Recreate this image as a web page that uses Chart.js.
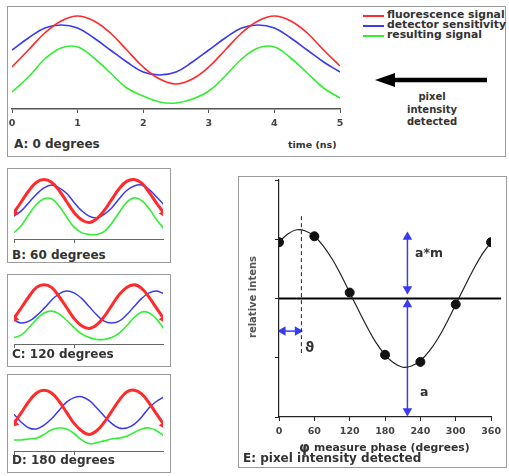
<!DOCTYPE html>
<html>
<head>
<meta charset="utf-8">
<script src="https://cdn.jsdelivr.net/npm/chart.js@4.4.1/dist/chart.umd.min.js"></script>
<style>
body { margin: 0; background: #fff; }
#page { position: relative; width: 509px; height: 476px; overflow: hidden;
        font-family: "DejaVu Sans", Verdana, sans-serif; font-weight: bold; color: #333; }
.box { position: absolute; border: 1px solid #9a9a9a; box-sizing: border-box; }
canvas { position: absolute; }
.t { position: absolute; white-space: nowrap; line-height: 1; }
.leg { position: absolute; height: 1.5px; width: 21px; }
</style>
</head>
<body>
<div id="page">
  <div class="box" style="left:7px;top:6px;width:499px;height:151px"></div>
  <div class="box" style="left:7px;top:168px;width:164px;height:95px"></div>
  <div class="box" style="left:7px;top:274px;width:164px;height:93px"></div>
  <div class="box" style="left:7px;top:374px;width:164px;height:99px"></div>
  <div class="box" style="left:238px;top:176px;width:269px;height:292px"></div>

  <canvas id="chart-a" width="350" height="130" style="left:0;top:0"></canvas>
  <canvas id="chart-b" width="163" height="78" style="left:7px;top:168px"></canvas>
  <canvas id="chart-c" width="163" height="77" style="left:7px;top:274px"></canvas>
  <canvas id="chart-d" width="163" height="84" style="left:7px;top:374px"></canvas>
  <canvas id="chart-e" width="276" height="275" style="left:230px;top:170px"></canvas>

  <!-- panel A legend and arrow -->
  <div class="leg" style="left:363px;top:15px;background:#ff2a2a"></div>
  <div class="leg" style="left:363px;top:25px;background:#3a3af0"></div>
  <div class="leg" style="left:363px;top:35px;background:#33ee33"></div>
  <div class="t" style="left:387px;top:9.6px;font-size:10.8px">fluorescence signal</div>
  <div class="t" style="left:387px;top:19.6px;font-size:10.8px">detector sensitivity</div>
  <div class="t" style="left:387px;top:29.6px;font-size:10.8px">resulting signal</div>
  <svg style="position:absolute;left:370px;top:70px" width="120" height="20">
    <line x1="20" y1="10" x2="117" y2="10" stroke="#000" stroke-width="4.5"/>
    <polygon points="5,10 25,3 25,17" fill="#000"/>
  </svg>
  <div class="t" style="left:392px;top:91px;width:80px;text-align:center;font-size:10px;line-height:12.5px;white-space:normal">pixel<br>intensity<br>detected</div>
  <div class="t" style="left:14px;top:138px;font-size:12px">A: 0 degrees</div>
  <div class="t" style="left:288px;top:140px;font-size:9.5px">time (ns)</div>

  <div class="t" style="left:12px;top:249px;font-size:12px">B: 60 degrees</div>
  <div class="t" style="left:12px;top:348px;font-size:12px">C: 120 degrees</div>
  <div class="t" style="left:12px;top:454px;font-size:12px">D: 180 degrees</div>

  <!-- panel E labels -->
  <div class="t" style="left:208px;top:291.5px;width:90px;text-align:center;font-size:10px;color:#555;transform:rotate(-90deg)">relative intens</div>
  <div class="t" style="left:415px;top:247px;font-size:12.5px">a*m</div>
  <div class="t" style="left:420px;top:386px;font-size:12.5px">a</div>
  <div class="t" style="left:305px;top:340px;font-size:14px">ϑ</div>
  <div class="t" style="left:299px;top:440px;font-size:14px">φ</div>
  <div class="t" style="left:314px;top:442.6px;font-size:10.8px">measure phase (degrees)</div>
  <div class="t" style="left:243px;top:452px;font-size:12px">E: pixel intensity detected</div>
</div>

<script>
'use strict';

// Panel A: time axis (ns) and the three signals
const timeA = [0, 0.25, 0.5, 0.75, 1, 1.25, 1.5, 1.75, 2, 2.25, 2.5, 2.75, 3, 3.25, 3.5, 3.75, 4, 4.25, 4.5, 4.75, 5];
const fluorA = [42, 59, 76, 88, 93, 88, 76, 59, 42, 30, 25, 30, 42, 59, 76, 88, 93, 88, 76, 59, 43];
const detectA = [59, 71, 81, 84, 81, 71, 59, 47, 37, 34, 37, 47, 59, 71, 81, 84, 81, 71, 59, 47, 37];
const resultA = [17, 32, 50, 61, 62, 51, 36, 21, 13, 7, 6, 10, 18, 33, 50, 61, 62, 51, 36, 21, 11];

// Panels B-D: same time scale for the small plots
const timeInset = [0, 0.125, 0.25, 0.375, 0.5, 0.625, 0.75, 0.875, 1, 1.125, 1.25, 1.375, 1.5, 1.625, 1.75, 1.875, 2, 2.125, 2.25, 2.375, 2.5];
const fluorB = [29, 41, 53, 62, 65, 62, 53, 41, 29, 21, 18, 22, 31, 43, 55, 63, 65, 61, 51, 39, 28];
const detectB = [25, 31, 40, 49, 56, 59, 56, 50, 40, 31, 25, 23, 27, 34, 44, 53, 58, 59, 54, 46, 37];
const resultB = [7, 15, 27, 38, 44, 44, 36, 24, 13, 7, 5, 5, 8, 17, 29, 40, 45, 42, 33, 21, 11];
const fluorC = [28, 40, 52, 62, 65, 62, 52, 40, 28, 20, 17, 21, 30, 42, 54, 62, 65, 61, 51, 39, 27];
const detectC = [26, 23, 25, 31, 39, 48, 55, 58, 56, 50, 41, 32, 25, 23, 25, 32, 41, 50, 56, 58, 55];
const resultC = [7, 10, 18, 27, 34, 36, 33, 26, 18, 11, 7, 5, 5, 7, 12, 20, 29, 35, 34, 27, 16];
const fluorD = [30, 42, 54, 63, 66, 63, 54, 42, 30, 22, 18, 22, 31, 43, 55, 64, 66, 62, 52, 40, 28];
const detectD = [40, 31, 25, 24, 28, 35, 44, 53, 58, 59, 55, 47, 38, 30, 25, 25, 29, 37, 47, 54, 59];
const resultD = [12, 12, 13, 14, 18, 23, 25, 24, 19, 12, 8, 9, 11, 13, 14, 16, 20, 24, 25, 22, 16];

// Panel E: fitted curve and measured phases
const phaseFit = [0, 15, 30, 45, 60, 75, 90, 105, 120, 135, 150, 165, 180, 195, 210, 225, 240, 255, 270, 285, 300, 315, 330, 345, 360];
const intensityFit = [0.95, 1.09, 1.16, 1.14, 1.05, 0.89, 0.67, 0.40, 0.10, -0.20, -0.49, -0.75, -0.95, -1.09, -1.16, -1.14, -1.05, -0.89, -0.67, -0.40, -0.10, 0.20, 0.49, 0.75, 0.95];
const phaseMeasured = [0, 60, 120, 180, 240, 300, 360];
const intensityMeasured = [0.95, 1.05, 0.10, -0.95, -1.07, -0.10, 0.95];
const phaseOffset = 38;      // phase lag marker (degrees)
const minimumPhase = 218;    // where a and a*m are marked
const ticksE = [0, 60, 120, 180, 240, 300, 360];

const RED = '#ff2a2a';
const BLUE = '#3a3af0';
const GREEN = '#33ee33';
const tickFont = { family: 'DejaVu Sans', size: 9.5, weight: 'bold' };

function toPoints(xs, ys) {
    return xs.map((x, i) => ({ x: x, y: ys[i] }));
}

function lineSet(xs, ys, color, width) {
    return {
        data: toPoints(xs, ys),
        borderColor: color,
        backgroundColor: color,
        borderWidth: width,
        pointRadius: 0,
        tension: 0.4,
    };
}

const baseOptions = {
    responsive: false,
    animation: false,
    devicePixelRatio: 1,
    plugins: { legend: { display: false }, tooltip: { enabled: false } },
};

// Panel A
new Chart(document.querySelector('#chart-a'), {
    type: 'line',
    data: {
        datasets: [
            lineSet(timeA, fluorA, RED, 1.6),
            lineSet(timeA, detectA, BLUE, 1.6),
            lineSet(timeA, resultA, GREEN, 1.6),
        ],
    },
    options: {
        ...baseOptions,
        layout: { padding: { top: 10, left: 12, right: 10, bottom: 0 } },
        scales: {
            x: {
                type: 'linear', min: 0, max: 5,
                ticks: { stepSize: 1, font: tickFont, color: '#444', padding: 5, maxRotation: 0 },
                grid: { drawOnChartArea: false, tickLength: 4, color: '#555' },
                border: { color: '#555', width: 1.5 },
                afterFit: scale => { scale.height = 21; },
            },
            y: { display: false, min: 0, max: 99 },
        },
    },
});

// Panels B, C, D
function drawInset(selector, fluor, detect, result, yMax) {
    const red = lineSet(timeInset, fluor, RED, 3);
    red.pointStyle = 'triangle';
    red.pointRadius = timeInset.map((t, i) => (i === 0 || i === timeInset.length - 1) ? 2.5 : 0);
    red.pointRotation = timeInset.map((t, i) => i === 0 ? 225 : 150);

    new Chart(document.querySelector(selector), {
        type: 'line',
        data: {
            datasets: [
                red,
                lineSet(timeInset, detect, BLUE, 1.5),
                lineSet(timeInset, result, GREEN, 1.6),
            ],
        },
        options: {
            ...baseOptions,
            layout: { padding: { top: 2, left: 0, right: 0, bottom: 0 } },
            scales: {
                x: {
                    type: 'linear', min: 0, max: 2.48,
                    ticks: { display: false, stepSize: 1 },
                    afterBuildTicks: scale => {
                        scale.ticks = scale.ticks.filter(t => Number.isInteger(t.value));
                    },
                    grid: { drawOnChartArea: false, tickLength: 4, color: '#666' },
                    border: { color: '#666', width: 1 },
                    afterFit: scale => { scale.height = 6; },
                },
                y: { display: false, min: 0, max: yMax },
            },
        },
    });
}

drawInset('#chart-b', fluorB, detectB, resultB, 70);
drawInset('#chart-c', fluorC, detectC, resultC, 69);
drawInset('#chart-d', fluorD, detectD, resultD, 76);

// Panel E
const arrowBlue = (pts, rotations) => ({
    data: pts,
    borderColor: BLUE,
    backgroundColor: BLUE,
    borderWidth: 1.5,
    pointStyle: 'triangle',
    pointRadius: 4,
    pointRotation: rotations,
});

new Chart(document.querySelector('#chart-e'), {
    type: 'line',
    data: {
        datasets: [
            {
                data: toPoints(phaseMeasured, intensityMeasured),
                showLine: false,
                pointRadius: 4.5,
                backgroundColor: '#111',
                borderColor: '#111',
            },
            {
                data: toPoints(phaseFit, intensityFit),
                borderColor: '#222',
                borderWidth: 1.2,
                pointRadius: 0,
                tension: 0.4,
            },
            {
                data: [{ x: 0, y: 0 }, { x: 377, y: 0 }],
                borderColor: '#000',
                borderWidth: 2,
                pointRadius: 0,
                clip: false,
            },
            {
                data: [{ x: phaseOffset, y: 1.39 }, { x: phaseOffset, y: -0.92 }],
                borderColor: '#222',
                borderWidth: 1,
                borderDash: [4, 3],
                pointRadius: 0,
            },
            arrowBlue([{ x: 6.5, y: -0.55 }, { x: 31.5, y: -0.55 }], [270, 90]),
            arrowBlue([{ x: minimumPhase, y: 1.04 }, { x: minimumPhase, y: 0.16 }], [0, 180]),
            arrowBlue([{ x: minimumPhase, y: -0.1 }, { x: minimumPhase, y: -1.9 }], [0, 180]),
        ],
    },
    options: {
        ...baseOptions,
        layout: { padding: { top: 10, left: 44, right: 11, bottom: 0 } },
        scales: {
            x: {
                type: 'linear', min: 0, max: 360,
                afterBuildTicks: scale => { scale.ticks = ticksE.map(v => ({ value: v })); },
                ticks: { font: tickFont, color: '#444', padding: 5, maxRotation: 0 },
                grid: { drawOnChartArea: false, tickLength: 4, color: '#222' },
                border: { color: '#222', width: 1.2 },
                afterFit: scale => { scale.height = 28; },
            },
            y: {
                min: -2, max: 2,
                ticks: { display: false, stepSize: 1 },
                grid: { drawOnChartArea: false, tickLength: 4, color: '#222' },
                border: { color: '#222', width: 1.2 },
                afterFit: scale => { scale.width = 5; },
            },
        },
    },
});
</script>
</body>
</html>
